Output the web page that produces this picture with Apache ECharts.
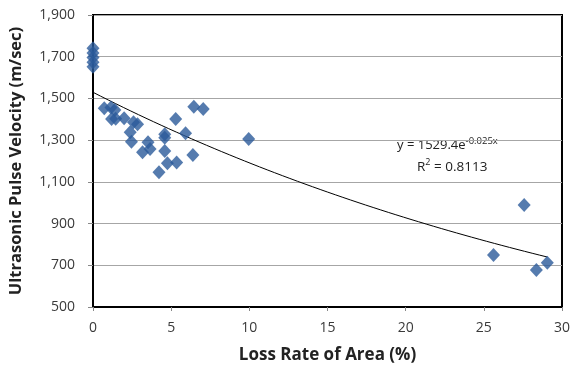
<!DOCTYPE html>
<html>
<head>
<meta charset="utf-8">
<script src="https://cdn.jsdelivr.net/npm/echarts@6/dist/echarts.min.js"></script>
<style>
  html, body { margin: 0; padding: 0; background: #fff; }
  #chart { width: 573px; height: 369px; }
</style>
</head>
<body>
<div id="chart"></div>
<script>
// Loss rate of area (%) for each specimen
const lossRate = [
  0, 0, 0, 0, 0,
  0.72, 1.15, 1.40, 1.19, 1.45, 1.99, 2.59, 2.85, 2.38, 2.46,
  3.52, 3.17, 3.65, 4.22, 4.59, 4.59, 4.59, 4.76, 5.29, 5.35,
  5.92, 6.39, 6.45, 7.05, 9.96,
  25.62, 27.58, 28.36, 29.06
];
// Ultrasonic pulse velocity (m/sec) for each specimen
const velocity = [
  1740, 1718, 1696, 1674, 1652,
  1453, 1456, 1444, 1401, 1403, 1405, 1386, 1376, 1338, 1292,
  1290, 1242, 1257, 1146, 1328, 1312, 1248, 1189, 1401, 1193,
  1333, 1229, 1460, 1449, 1305,
  749, 989, 677, 712
];
// Exponential trend: y = a * e^(b x)
const trendA = 1529.4;
const trendB = -0.025;
const trendEndX = 29.06;
const xTicks = [0, 5, 10, 15, 20, 25, 30];
const yTicks = [500, 700, 900, 1100, 1300, 1500, 1700, 1900];

const points = lossRate.map((x, i) => [x, velocity[i]]);
const trend = [];
for (let i = 0; i <= 60; i++) {
  const x = trendEndX * i / 60;
  trend.push([x, trendA * Math.exp(trendB * x)]);
}

const font = '"Open Sans", "Liberation Sans", sans-serif';
const chart = echarts.init(document.getElementById('chart'), null, { renderer: 'canvas' });
chart.setOption({
  animation: false,
  backgroundColor: '#ffffff',
  grid: {
    left: 92, right: 10, top: 15, bottom: 62,
    show: true, borderColor: '#000', borderWidth: 2, backgroundColor: 'transparent'
  },
  xAxis: {
    type: 'value', min: xTicks[0], max: xTicks[xTicks.length - 1], interval: 5,
    name: 'Loss Rate of Area (%)', nameLocation: 'middle', nameGap: 40,
    nameTextStyle: { fontFamily: font, fontWeight: 'bold', fontSize: 17, color: '#222' },
    axisLine: { show: true, lineStyle: { color: '#000', width: 2 } },
    axisTick: { show: true, length: 4, lineStyle: { color: '#888' } },
    axisLabel: { fontFamily: font, fontSize: 14, color: '#3a3a3a', margin: 14 },
    splitLine: { show: false }
  },
  yAxis: {
    type: 'value', min: yTicks[0], max: yTicks[yTicks.length - 1], interval: 200,
    name: 'Ultrasonic Pulse Velocity (m/sec)', nameLocation: 'middle', nameGap: 68,
    nameTextStyle: { fontFamily: font, fontWeight: 'bold', fontSize: 16.5, color: '#222' },
    axisLine: { show: true, lineStyle: { color: '#000', width: 2 } },
    axisTick: { show: true, length: 5, lineStyle: { color: '#888' } },
    axisLabel: {
      fontFamily: font, fontSize: 14, color: '#3a3a3a', margin: 18,
      formatter: v => v.toLocaleString('en-US')
    },
    splitLine: { show: true, lineStyle: { color: '#a6a6a6', width: 1 } }
  },
  series: [
    {
      type: 'line', data: trend, showSymbol: false, smooth: false,
      lineStyle: { color: '#000', width: 1 }, z: 3
    },
    {
      type: 'scatter', data: points, symbol: 'diamond', symbolSize: [13, 14],
      itemStyle: { color: '#2a5a9a' }, z: 4
    }
  ],
  graphic: [
    {
      type: 'text', left: 397, top: 136,
      style: {
        text: '{m|y = 1529.4e}{s|-0.025x}',
        rich: {
          m: { fontFamily: font, fontSize: 13, fill: '#222' },
          s: { fontFamily: font, fontSize: 9.5, fill: '#222', padding: [0, 0, 9, 0] }
        }
      }
    },
    {
      type: 'text', left: 417, top: 158,
      style: {
        text: '{m|R}{s|2}{m| = 0.8113}',
        rich: {
          m: { fontFamily: font, fontSize: 13.5, fill: '#222' },
          s: { fontFamily: font, fontSize: 9, fill: '#222', padding: [0, 0, 9, 0] }
        }
      }
    }
  ]
});
</script>
</body>
</html>
